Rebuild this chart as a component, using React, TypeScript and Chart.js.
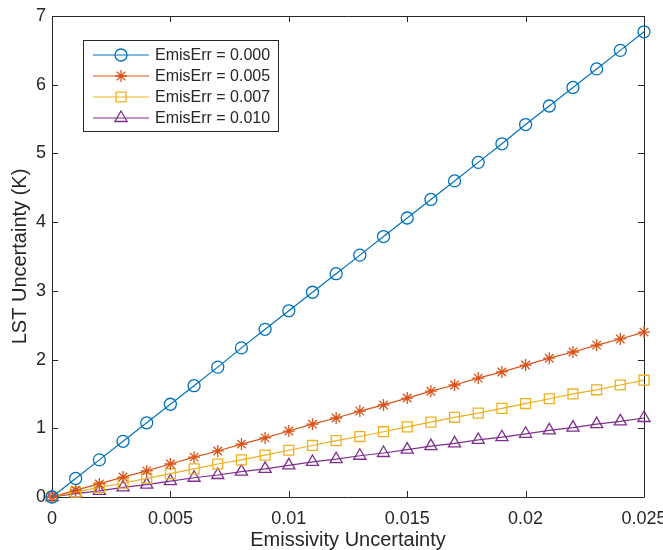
import React, { useEffect, useRef } from "react";
import { Chart, registerables } from "chart.js";
import * as helpers from "chart.js/helpers";

Chart.register(...registerables);

const xValues = [
  0, 0.001, 0.002, 0.003, 0.004, 0.005, 0.006, 0.007, 0.008, 0.009, 0.01, 0.011, 0.012,
  0.013, 0.014, 0.015, 0.016, 0.017, 0.018, 0.019, 0.02, 0.021, 0.022, 0.023, 0.024, 0.025,
];
const err000 = [
  0, 0.27, 0.54, 0.81, 1.08, 1.35, 1.62, 1.89, 2.17, 2.44, 2.71, 2.98, 3.25, 3.52, 3.79,
  4.06, 4.33, 4.6, 4.87, 5.14, 5.42, 5.69, 5.96, 6.23, 6.5, 6.77,
];
const err005 = [
  0, 0.1, 0.19, 0.29, 0.38, 0.48, 0.58, 0.67, 0.77, 0.86, 0.96, 1.06, 1.15, 1.25, 1.34,
  1.44, 1.54, 1.63, 1.73, 1.82, 1.92, 2.02, 2.11, 2.21, 2.3, 2.4,
];
const err007 = [
  0, 0.07, 0.14, 0.2, 0.27, 0.34, 0.41, 0.48, 0.54, 0.61, 0.68, 0.75, 0.82, 0.88, 0.95,
  1.02, 1.09, 1.16, 1.22, 1.29, 1.36, 1.43, 1.5, 1.56, 1.63, 1.7,
];
const err010 = [
  0, 0.05, 0.09, 0.14, 0.18, 0.23, 0.28, 0.32, 0.37, 0.41, 0.46, 0.51, 0.55, 0.6, 0.64,
  0.69, 0.74, 0.78, 0.83, 0.87, 0.92, 0.97, 1.01, 1.06, 1.1, 1.15,
];
const seriesLabels = ["EmisErr = 0.000", "EmisErr = 0.005", "EmisErr = 0.007", "EmisErr = 0.010"];
const seriesValues = [err000, err005, err007, err010];
const seriesColors = ["#0072BD", "#D95319", "#EDB120", "#7E2F8E"];
const seriesMarkers = ["circle", "star", "rect", "triangle"];
const seriesRadius = [6, 6, 7, 7];
const xTicks = [0, 0.005, 0.01, 0.015, 0.02, 0.025];
const yTicks = [0, 1, 2, 3, 4, 5, 6, 7];

const FONT = "'Liberation Sans', Arial, Helvetica, sans-serif";
const AXIS = "#262626";

const framePlugin = {
  id: "frame",
  beforeDatasetsDraw(chart: any) {
    const { ctx, chartArea } = chart;
    const { left, right, top, bottom } = chartArea;
    const xs = chart.scales.x;
    const ys = chart.scales.y;
    ctx.save();
    ctx.strokeStyle = AXIS;
    ctx.lineWidth = 1;
    ctx.beginPath();
    ctx.rect(Math.round(left) + 0.5, Math.round(top) + 0.5, Math.round(right - left), Math.round(bottom - top));
    ctx.stroke();
    const tl = 6;
    ctx.beginPath();
    xTicks.forEach((v) => {
      const px = Math.round(xs.getPixelForValue(v)) + 0.5;
      ctx.moveTo(px, bottom);
      ctx.lineTo(px, bottom - tl);
      ctx.moveTo(px, top);
      ctx.lineTo(px, top + tl);
    });
    yTicks.forEach((v) => {
      const py = Math.round(ys.getPixelForValue(v)) + 0.5;
      ctx.moveTo(left, py);
      ctx.lineTo(left + tl, py);
      ctx.moveTo(right, py);
      ctx.lineTo(right - tl, py);
    });
    ctx.stroke();
    ctx.restore();
  },
};

const legendPlugin = {
  id: "insideLegend",
  afterDraw(chart: any) {
    const { ctx, chartArea } = chart;
    const bx = chartArea.left + 31;
    const by = chartArea.top + 24;
    const bw = 195;
    const bh = 91;
    ctx.save();
    ctx.fillStyle = "#ffffff";
    ctx.fillRect(bx, by, bw, bh);
    ctx.strokeStyle = "#262626";
    ctx.lineWidth = 1;
    ctx.strokeRect(bx + 0.5, by + 0.5, bw, bh);
    seriesLabels.forEach((label, i) => {
      const y = by + 15 + i * 21;
      ctx.strokeStyle = seriesColors[i];
      ctx.lineWidth = 1.2;
      ctx.beginPath();
      ctx.moveTo(bx + 10, y);
      ctx.lineTo(bx + 66, y);
      ctx.stroke();
      ctx.fillStyle = "rgba(0,0,0,0)";
      ctx.lineWidth = 1.3;
      helpers.drawPoint(ctx, { pointStyle: seriesMarkers[i], radius: seriesRadius[i], rotation: 0, borderWidth: 1.3 }, bx + 38, y);
      ctx.fillStyle = AXIS;
      ctx.font = `16px ${FONT}`;
      ctx.textAlign = "left";
      ctx.textBaseline = "middle";
      ctx.fillText(label, bx + 72, y + 1);
    });
    ctx.restore();
  },
};

export default function App() {
  const ref = useRef<HTMLCanvasElement | null>(null);
  useEffect(() => {
    document.body.style.margin = "0";
    const canvas = ref.current!;
    const datasets = seriesValues.map((vals, i) => ({
      label: seriesLabels[i],
      data: xValues.map((x, j) => ({ x, y: vals[j] })),
      borderColor: seriesColors[i],
      backgroundColor: "rgba(0,0,0,0)",
      borderWidth: 1.2,
      pointStyle: seriesMarkers[i],
      pointRadius: seriesRadius[i],
      pointBorderWidth: 1.3,
      pointBorderColor: seriesColors[i],
      pointBackgroundColor: "rgba(0,0,0,0)",
      clip: false as any,
      tension: 0,
    }));
    const chart = new Chart(canvas, {
      type: "scatter",
      data: { datasets: datasets as any },
      options: {
        animation: false,
        responsive: false,
        showLine: true,
        layout: { padding: { top: 16, right: 19, left: 0, bottom: 0 } },
        plugins: { legend: { display: false }, tooltip: { enabled: false } },
        scales: {
          x: {
            type: "linear",
            min: 0,
            max: 0.025,
            afterFit: (s: any) => {
              s.height = 53;
              s.paddingLeft = 0;
              s.paddingRight = 0;
            },
            afterBuildTicks: (s: any) => {
              s.ticks = xTicks.map((v) => ({ value: v }));
            },
            grid: { display: false, drawTicks: false },
            border: { display: false },
            ticks: {
              padding: 11,
              color: AXIS,
              font: { family: FONT, size: 18 },
              maxRotation: 0,
              callback: (v: any) => String(parseFloat(Number(v).toFixed(3))),
            },
            title: {
              display: true,
              text: "Emissivity Uncertainty",
              color: AXIS,
              font: { family: FONT, size: 20, lineHeight: 1 },
              padding: { top: 0, bottom: 0 },
            },
          },
          y: {
            type: "linear",
            min: 0,
            max: 7,
            afterFit: (s: any) => {
              s.width = 52;
              s.paddingTop = 0;
              s.paddingBottom = 0;
            },
            afterBuildTicks: (s: any) => {
              s.ticks = yTicks.map((v) => ({ value: v }));
            },
            grid: { display: false, drawTicks: false },
            border: { display: false },
            ticks: {
              padding: 6,
              color: AXIS,
              font: { family: FONT, size: 18 },
            },
            title: {
              display: true,
              text: "LST Uncertainty (K)",
              color: AXIS,
              font: { family: FONT, size: 20, lineHeight: 1 },
              padding: { top: 10, bottom: 0 },
            },
          },
        },
      },
      plugins: [framePlugin, legendPlugin],
    });
    return () => chart.destroy();
  }, []);
  return <canvas ref={ref} width={663} height={550} style={{ display: "block" }} />;
}
